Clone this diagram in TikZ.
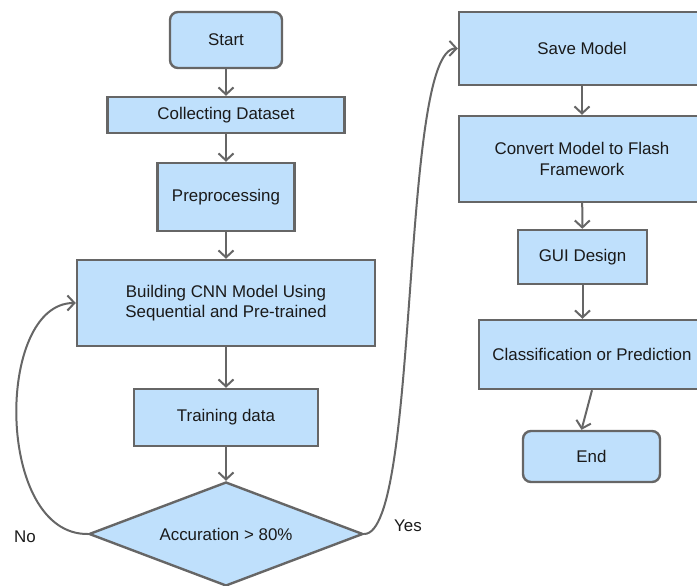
\documentclass[tikz,border=0pt]{standalone}
\usepackage{fontspec}
\setmainfont{Liberation Sans}
\usetikzlibrary{calc,shapes.geometric,arrows.meta}

\definecolor{boxfill}{HTML}{BFE0FC}
\definecolor{boxline}{HTML}{666666}
\definecolor{txtcol}{HTML}{1A1A1A}

\tikzset{
  box/.style={draw=boxline, fill=boxfill, line width=2.4pt, inner sep=0pt, align=center, text=txtcol},
  rbox/.style={box, rounded corners=8pt},
  flow/.style={draw=boxline, line width=2pt, -{Straight Barb[length=7pt,width=15pt]}},
}

\begin{document}
\begin{tikzpicture}[x=1pt, y=-1pt, font=\fontsize{16.9}{20.3}\selectfont]
            \useasboundingbox (0,0) rectangle (697,586);

            % left column
            \node[rbox, minimum width=112pt, minimum height=56pt] (start) at (226,40) {Start};
            \node[box, minimum width=237pt, minimum height=36pt] (collect) at (226,115) {Collecting Dataset};
            \node[box, minimum width=137pt, minimum height=68pt] (prep) at (226,197) {Preprocessing};
            \node[box, minimum width=298pt, minimum height=86pt] (build) at (226,303) {Building CNN Model Using\\Sequential and Pre-trained};
            \node[box, minimum width=184pt, minimum height=57pt] (train) at (226,417.5) {Training data};
            \node[box, diamond, aspect=2.6, minimum width=274pt, minimum height=104pt] (acc) at (226,534) {Accuration > 80\%};

            % right column
            \node[box, minimum width=246pt, minimum height=73pt] (save) at (582,48.5) {Save Model};
            \node[box, minimum width=246pt, minimum height=86pt] (convert) at (582,159) {Convert Model to Flash\\Framework};
            \node[box, minimum width=129pt, minimum height=54pt] (gui) at (582.5,257) {GUI Design};
            \node[box, minimum width=226pt, minimum height=69pt] (cls) at (592,354.5) {Classification or Prediction};
            \node[rbox, minimum width=137pt, minimum height=51pt] (finish) at (591.5,456.5) {End};

            \node[text=txtcol] (no) at (25,537) {No};
            \node[text=txtcol] (yes) at (408,526) {Yes};

            \foreach \a/\b in {start/collect,collect/prep,prep/build,build/train,train/acc,save/convert,convert/gui} {
            \draw[flow] (\a) -- (\b);}

            \draw[flow] (gui.south) -- (gui.south |- cls.north);
            \draw[flow] (cls.south) -- ($(finish.north)+(-10,0)$);

            \draw[flow] (acc.west) .. controls (-5,535) and (-5,303) .. (build.west);
            \draw[flow] (acc.east) .. controls (420,534) and (400,48) .. (save.west);
        \end{tikzpicture}
\end{document}
